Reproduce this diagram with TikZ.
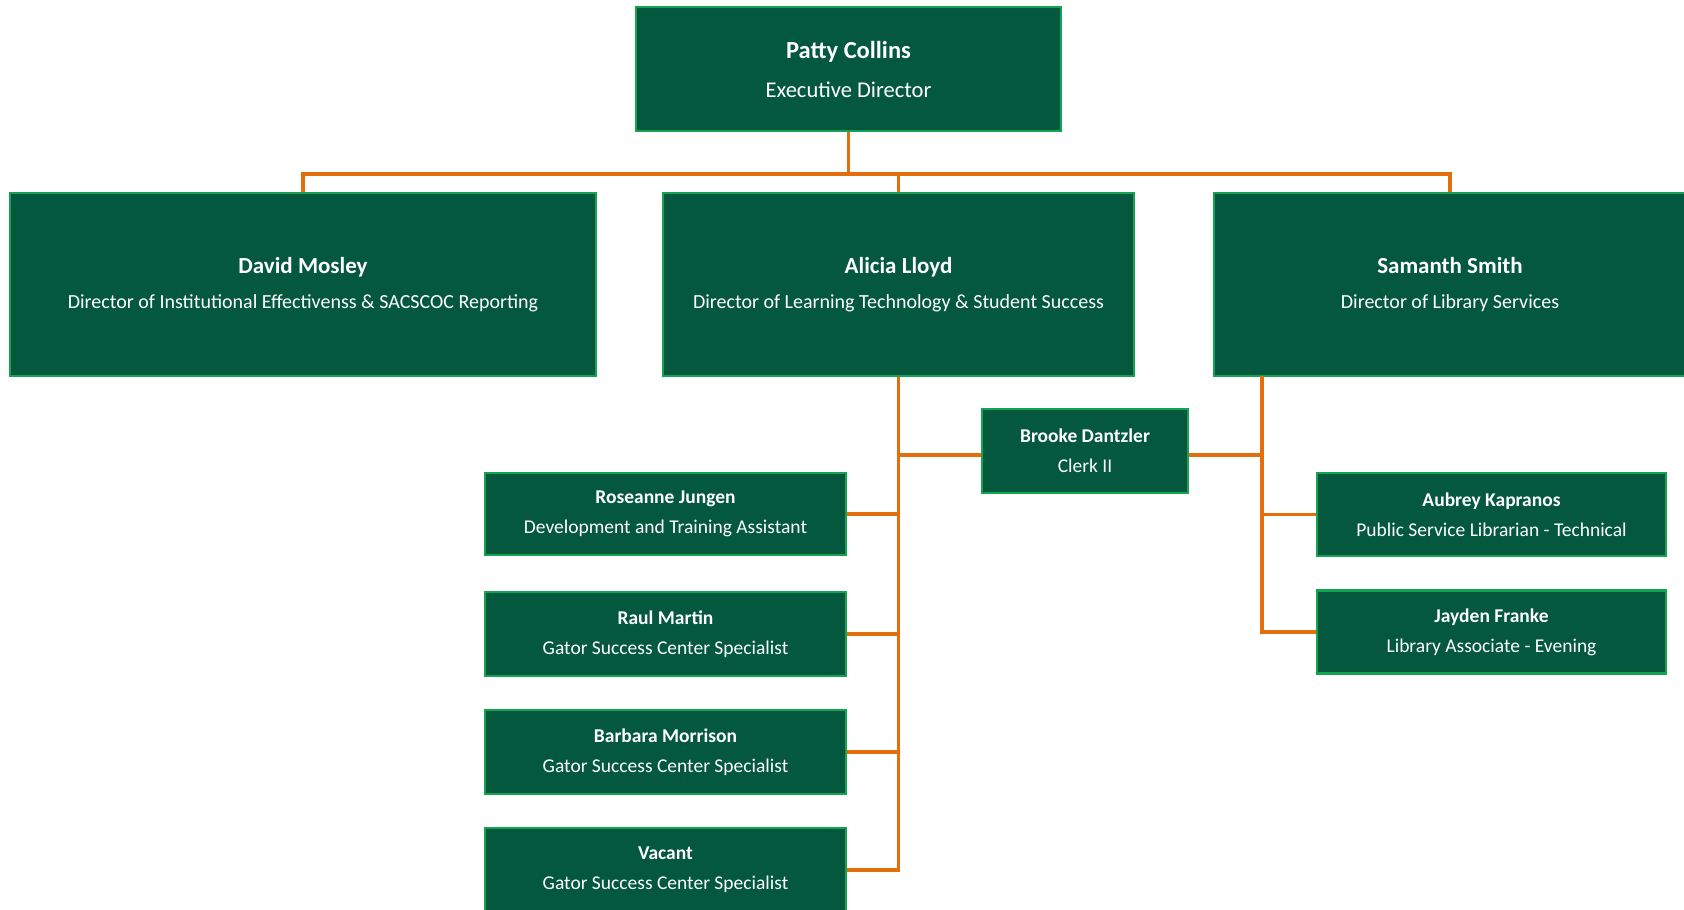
\documentclass[tikz,border=0pt]{standalone}
\usepackage{fontspec}
\setmainfont{Carlito}
\definecolor{dkg}{RGB}{3,88,62}
\definecolor{bord}{RGB}{20,163,82}
\definecolor{orng}{RGB}{228,110,12}
\begin{document}
\begin{tikzpicture}[x=1pt,y=-1pt,
  box/.style={draw=bord, fill=dkg, line width=2.6pt, text=white, align=center, inner sep=0pt},
  topbox/.style={box, minimum width=425pt, minimum height=124pt, font=\fontsize{22.5}{39}\selectfont},
  dirbox/.style={box, minimum height=183pt, font=\fontsize{20}{35}\selectfont},
  staffbox/.style={box, minimum height=82pt, font=\fontsize{19.5}{30}\selectfont},
  conn/.style={draw=orng, line width=3.2pt}]
\clip (0,0) rectangle (1684,910);
\useasboundingbox (0,0) rectangle (1684,910);

\node[topbox] (patty) at (848.5,69) {{\fontsize{24.5}{39}\selectfont\bfseries Patty Collins}\\Executive Director};

\node[dirbox, minimum width=586pt] (david) at (303,284.5) {{\fontsize{23}{35}\selectfont\bfseries David Mosley}\\Director of Institutional Effectivenss \& SACSCOC Reporting};
\node[dirbox, minimum width=471pt] (alicia) at (898.5,284.5) {{\fontsize{23}{35}\selectfont\bfseries Alicia Lloyd}\\Director of Learning Technology \& Student Success};
\node[dirbox, minimum width=472pt] (samanth) at (1450,284.5) {{\fontsize{23}{35}\selectfont\bfseries Samanth Smith}\\Director of Library Services};

\node[staffbox, minimum width=206pt, minimum height=84pt] (brooke) at (1085,451) {{\bfseries Brooke Dantzler}\\Clerk II};

\node[staffbox, minimum width=361pt] (roseanne) at (665.5,514) {{\bfseries Roseanne Jungen}\\Development and Training Assistant};
\node[staffbox, minimum width=361pt, minimum height=84pt] (raul) at (665.5,634) {{\bfseries Raul Martin}\\Gator Success Center Specialist};
\node[staffbox, minimum width=361pt, minimum height=84pt] (barbara) at (665.5,752) {{\bfseries Barbara Morrison}\\Gator Success Center Specialist};
\node[staffbox, minimum width=361pt, minimum height=84pt] (vacant) at (665.5,870) {{\bfseries Vacant}\\Gator Success Center Specialist};

\node[staffbox, minimum width=349pt, minimum height=83pt] (aubrey) at (1491.5,514.5) {{\bfseries Aubrey Kapranos}\\Public Service Librarian - Technical};
\node[staffbox, minimum width=349pt, minimum height=83pt] (jayden) at (1491.5,632) {{\bfseries Jayden Franke}\\Library Associate - Evening};

\coordinate (bus) at (848.5,174);
\coordinate (sv) at (1262,376);

\draw[conn] (patty.south) -- (bus);
\draw[conn] (david.north) -- (david.north |- bus) -- (samanth.north |- bus) -- (samanth.north);
\draw[conn] (alicia.north) -- (alicia.north |- bus);

\draw[conn] (alicia.south) -- (alicia.south |- vacant.east) -- (vacant.east);
\draw[conn] ([yshift=-4pt]brooke.west) -- ([yshift=-4pt]brooke.west -| alicia.south);
\draw[conn] (roseanne.east) -- (roseanne.east -| alicia.south);
\draw[conn] (raul.east) -- (raul.east -| alicia.south);
\draw[conn] (barbara.east) -- (barbara.east -| alicia.south);

\draw[conn] (sv) -- (sv |- jayden.west) -- (jayden.west);
\draw[conn] (aubrey.west) -- (aubrey.west -| sv);
\draw[conn] ([yshift=-4pt]brooke.east) -- ([yshift=-4pt]brooke.east -| sv);
\end{tikzpicture}
\end{document}
